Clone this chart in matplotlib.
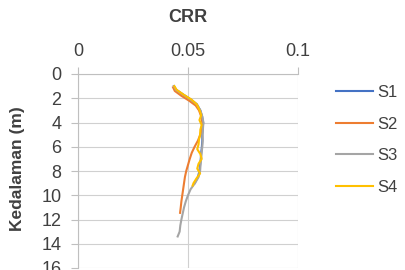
import matplotlib
matplotlib.use("Agg")
import matplotlib.pyplot as plt

plt.rcParams["font.family"] = ["Liberation Sans", "DejaVu Sans"]

# CRR vs depth for the four boreholes
depth_s1 = [1.0, 1.3, 1.7, 2.1, 2.5, 3.0, 3.5, 4.0, 4.5, 5.0, 5.5, 6.0, 6.5, 7.0, 7.5, 8.0, 8.5, 9.0]
crr_s1 = [0.0436, 0.0446, 0.0478, 0.0512, 0.0540, 0.0556, 0.0564, 0.0569, 0.0567, 0.0565, 0.0565,
          0.0563, 0.0560, 0.0558, 0.0555, 0.0552, 0.0545, 0.0530]

depth_s2 = [1.1, 1.4, 1.8, 2.2, 2.6, 3.0, 3.5, 4.0, 4.5, 5.0, 5.5, 6.0, 6.5, 7.0, 7.5, 8.0,
            8.5, 9.0, 9.5, 10.0, 10.5, 11.0, 11.45]
crr_s2 = [0.0432, 0.0440, 0.0470, 0.0505, 0.0535, 0.0550, 0.0560, 0.0565, 0.0563, 0.0556, 0.0545,
          0.0530, 0.0517, 0.0508, 0.0500, 0.0492, 0.0486, 0.0482, 0.0478, 0.0474, 0.0470, 0.0467, 0.0464]

depth_s3 = [1.0, 1.3, 1.7, 2.1, 2.5, 3.0, 3.5, 4.0, 4.5, 5.0, 5.5, 6.0, 6.5, 7.0, 7.5, 8.0, 8.5,
            9.0, 9.5, 10.0, 10.5, 11.0, 11.5, 12.0, 12.5, 13.0, 13.4]
crr_s3 = [0.0436, 0.0445, 0.0478, 0.0512, 0.0540, 0.0556, 0.0565, 0.0570, 0.0568, 0.0566, 0.0567,
          0.0565, 0.0562, 0.0560, 0.0557, 0.0555, 0.0548, 0.0532, 0.0512, 0.0500, 0.0490, 0.0482,
          0.0476, 0.0470, 0.0465, 0.0462, 0.0453]

depth_s4 = [1.0, 1.3, 1.7, 2.1, 2.5, 3.0, 3.4, 3.8, 4.2, 4.6, 5.0, 5.4, 5.8, 6.2, 6.6, 7.0, 7.4,
            7.8, 8.2, 8.6, 9.0, 9.2]
crr_s4 = [0.0438, 0.0448, 0.0480, 0.0515, 0.0540, 0.0553, 0.0560, 0.0552, 0.0562, 0.0556, 0.0555,
          0.0550, 0.0548, 0.0542, 0.0556, 0.0562, 0.0548, 0.0542, 0.0555, 0.0539, 0.0525, 0.0521]

labels = ["S1", "S2", "S3", "S4"]
colors = ["#4472C4", "#ED7D31", "#A5A5A5", "#FFC000"]
x_ticks = [0, 0.05, 0.1]
x_ticklabels = ["0", "0.05", "0.1"]
y_ticks = list(range(0, 17, 2))

fig = plt.figure(figsize=(4.06, 2.70), dpi=100)
ax = fig.add_axes([78 / 406, 2 / 270, 220 / 406, 194 / 270])

series = [(crr_s1, depth_s1), (crr_s2, depth_s2), (crr_s3, depth_s3), (crr_s4, depth_s4)]
for (x, y), lab, col in zip(series, labels, colors):
    ax.plot(x, y, color=col, linewidth=1.5, label=lab)

ax.set_xlim(0, 0.1)
ax.set_ylim(16, 0)
ax.set_xticks(x_ticks)
ax.set_xticklabels(x_ticklabels)
ax.set_yticks(y_ticks)
ax.xaxis.tick_top()
ax.tick_params(axis="both", colors="#bfbfbf", labelcolor="#404040", labelsize=13,
               length=5, width=0.8)
ax.tick_params(axis="x", pad=5)
ax.tick_params(axis="y", pad=7)
ax.grid(True, color="#d0d0d0", linewidth=0.8)
for side in ["right", "bottom"]:
    ax.spines[side].set_visible(False)
for side in ["left", "top"]:
    ax.spines[side].set_color("#bfbfbf")
    ax.spines[side].set_linewidth(0.8)

fig.text(188 / 406, 1 - 18 / 270, "CRR", ha="center", va="center",
         fontsize=13, fontweight="bold", color="#404040")
fig.text(18 / 406, 1 - 169 / 270, "Kedalaman (m)", ha="center", va="center",
         rotation=90, fontsize=12.5, fontweight="bold", color="#404040")

fig.legend(loc="center left", bbox_to_anchor=(336 / 406, 1 - 140 / 270), frameon=False,
           fontsize=12, handlelength=2.2, handletextpad=0.3, labelspacing=1.0,
           borderpad=0, borderaxespad=0, labelcolor="#404040")

fig.savefig("out.png", dpi=100)
